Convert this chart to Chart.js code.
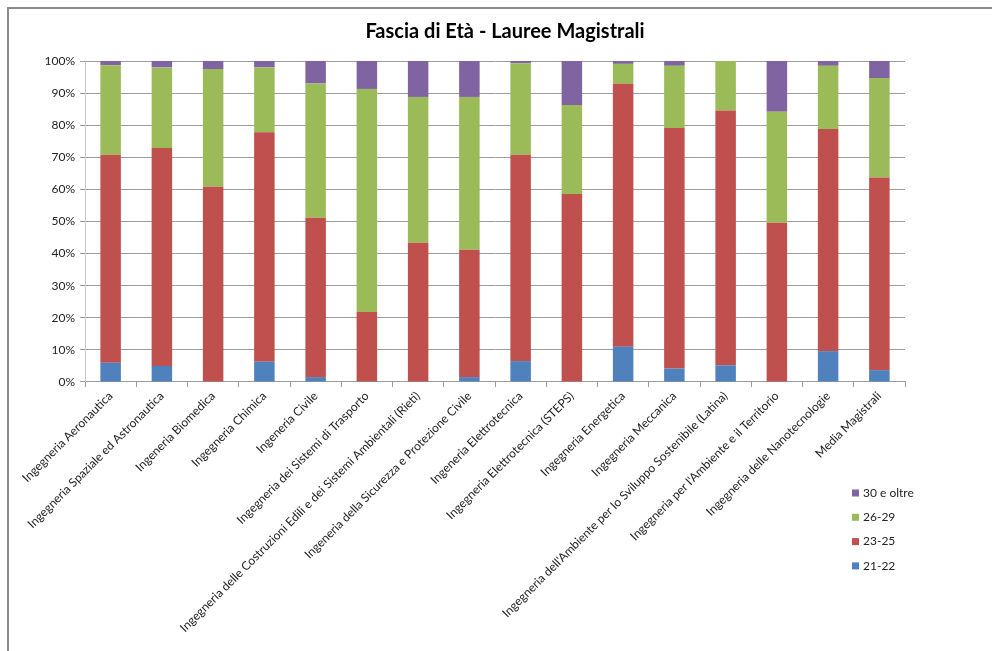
<!DOCTYPE html>
<html>
<head>
<meta charset="utf-8">
<script src="https://cdn.jsdelivr.net/npm/chart.js@4.4.0/dist/chart.umd.min.js"></script>
<style>
    body { margin: 0; background: #fff; }
    #wrap { position: relative; width: 992px; height: 651px; overflow: hidden; }
    #frame { position: absolute; left: 7px; top: 7px; width: 1200px; height: 900px;
             border-left: 2px solid #8c8c8c; border-top: 2px solid #8c8c8c; }
    canvas { position: absolute; left: 0; top: 0; }
</style>
</head>
<body>
<div id="wrap">
    <div id="frame"></div>
    <canvas id="chart" width="992" height="651"></canvas>
</div>
<script>
const categories = [
    "Ingegneria Aeronautica",
    "Ingegneria Spaziale ed Astronautica",
    "Ingeneria Biomedica",
    "Ingegneria Chimica",
    "Ingeneria Civile",
    "Ingegneria dei Sistemi di Trasporto",
    "Ingegneria delle Costruzioni Edili e dei Sistemi Ambientali (Rieti)",
    "Ingeneria della Sicurezza e Protezione Civile",
    "Ingeneria Elettrotecnica",
    "Ingegneria Elettrotecnica (STEPS)",
    "Ingegneria Energetica",
    "Ingegneria Meccanica",
    "Ingegneria dell'Ambiente per lo Sviluppo Sostenibile (Latina)",
    "Ingegneria per l'Ambiente e il Territorio",
    "Ingegneria delle Nanotecnologie",
    "Media Magistrali"
];

// percentuali per fascia di età (21-22 in basso)
const eta2122 = [6.0, 5.0, 0, 6.3, 1.5, 0, 0, 1.5, 6.5, 0, 11.0, 4.2, 5.2, 0, 9.6, 3.7];
const eta2325 = [64.8, 67.9, 60.8, 71.5, 49.7, 21.8, 43.4, 39.7, 64.3, 58.6, 81.9, 74.9, 79.4, 49.6, 69.2, 60.0];
const eta2629 = [27.9, 25.1, 36.7, 20.2, 41.8, 69.5, 45.4, 47.6, 28.5, 27.7, 6.2, 19.4, 15.4, 34.6, 19.7, 31.0];
const eta30 = [1.3, 2.0, 2.5, 2.0, 7.0, 8.7, 11.2, 11.2, 0.7, 13.7, 0.9, 1.5, 0, 15.8, 1.5, 5.3];

const yTicks = [0, 10, 20, 30, 40, 50, 60, 70, 80, 90, 100];

const FONT = "Lato, 'Open Sans', sans-serif";
const GRID = '#9c9c9c';

// legenda verticale in basso a destra, ordine inverso come in Excel
const sideLegend = {
    id: 'sideLegend',
    afterDraw(chart) {
        const ctx = chart.ctx;
        const sets = chart.data.datasets.slice().reverse();
        ctx.save();
        ctx.font = '12px ' + FONT;
        ctx.textBaseline = 'middle';
        sets.forEach((ds, i) => {
            const y = 493 + i * 24.3;
            ctx.fillStyle = ds.backgroundColor;
            ctx.fillRect(852, y - 3.5, 7, 7);
            ctx.fillStyle = '#222';
            ctx.fillText(ds.label, 863, y);
        });
        ctx.restore();
    }
};

new Chart(document.getElementById('chart'), {
    type: 'bar',
    data: {
        labels: categories,
        datasets: [
            { label: '21-22', data: eta2122, backgroundColor: '#4F81BD' },
            { label: '23-25', data: eta2325, backgroundColor: '#C0504D' },
            { label: '26-29', data: eta2629, backgroundColor: '#9BBB59' },
            { label: '30 e oltre', data: eta30, backgroundColor: '#8064A2' },
        ]
    },
    options: {
        responsive: false,
        animation: false,
        layout: {
            padding: { left: 18, right: 0, top: 0, bottom: 14 }
        },
        datasets: {
            bar: { barPercentage: 0.4, categoryPercentage: 1.0 }
        },
        plugins: {
            legend: { display: false },
            tooltip: { enabled: false },
            title: {
                display: true,
                text: 'Fascia di Età - Lauree Magistrali',
                color: '#000',
                font: { family: FONT, size: 20, weight: 'bold' },
                padding: { top: 20, bottom: 17 }
            }
        },
        scales: {
            x: {
                stacked: true,
                grid: {
                    offset: true,
                    drawOnChartArea: false,
                    drawTicks: true,
                    tickLength: 5,
                    color: GRID
                },
                border: { display: true, color: GRID },
                ticks: {
                    autoSkip: false,
                    maxRotation: 45,
                    minRotation: 45,
                    padding: 2,
                    color: '#222',
                    font: { family: FONT, size: 12 }
                }
            },
            y: {
                stacked: true,
                min: 0,
                max: 100,
                afterBuildTicks: (axis) => { axis.ticks = yTicks.map(v => ({ value: v })); },
                afterFit: (axis) => { axis.width = 67; },
                grid: { color: GRID, tickLength: 5 },
                border: { display: true, color: '#c8c8c8' },
                ticks: {
                    padding: 5,
                    color: '#222',
                    font: { family: FONT, size: 12 },
                    callback: (v) => v + '%'
                }
            },
            // spazio vuoto a destra (zona della legenda)
            spacer: {
                type: 'linear',
                position: 'right',
                display: true,
                grid: { display: false },
                border: { display: false },
                ticks: { display: false },
                afterFit: (axis) => { axis.width = 87; }
            }
        }
    },
    plugins: [sideLegend]
});
</script>
</body>
</html>
